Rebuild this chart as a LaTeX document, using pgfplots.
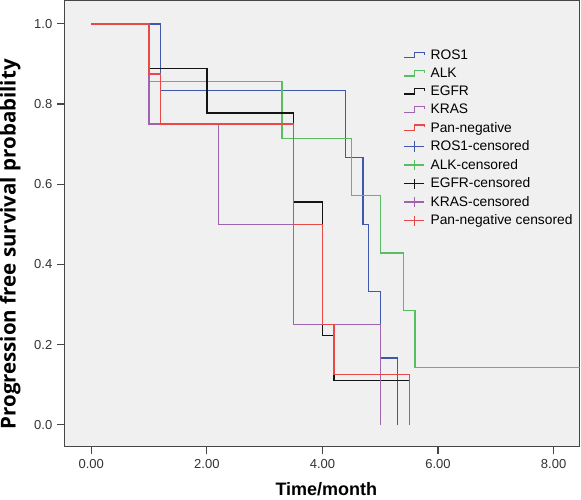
\documentclass[border=0pt]{standalone}
\usepackage{pgfplots}
\pgfplotsset{compat=1.18}
\usepackage{fontspec}
\setmainfont{Liberation Sans}
\newfontfamily\labfont{Open Sans}
\definecolor{rosc}{RGB}{62,88,172}
\definecolor{alkc}{RGB}{88,190,100}
\definecolor{egfrc}{RGB}{20,20,20}
\definecolor{krasc}{RGB}{160,100,175}
\definecolor{panc}{RGB}{232,72,72}
\definecolor{bgc}{RGB}{240,240,240}
\definecolor{framec}{RGB}{70,70,70}
\pgfplotsset{
  steplegend/.style={legend image code/.code={
    \draw[##1] (0bp,-2.5bp) -- (10bp,-2.5bp) -- (10bp,3bp) -- (20bp,3bp) -- (20bp,0.5bp);}},
  censlegend/.style={legend image code/.code={
    \draw[##1] (0bp,0bp) -- (20bp,0bp); \draw[##1] (10bp,-5bp) -- (10bp,5bp);}},
}
\begin{document}
\begin{tikzpicture}
\begin{axis}[
  scale only axis,
  width=513bp, height=444bp,
  xmin=-0.457, xmax=8.45,
  ymin=-0.053, ymax=1.058,
  axis background/.style={fill=bgc},
  axis line style={framec, line width=1.2bp},
  xtick={0,2,4,6,8},
  ytick={0,0.2,0.4,0.6,0.8,1.0},
  tick align=outside,
  major tick length=8bp,
  tick style={framec, line width=1.2bp},
  xtick pos=bottom, ytick pos=left,
  /pgf/number format/assume math mode=true,
  xticklabel style={/pgf/number format/fixed, /pgf/number format/fixed zerofill, /pgf/number format/precision=2, yshift=-2bp},
  yticklabel style={/pgf/number format/fixed, /pgf/number format/fixed zerofill, /pgf/number format/precision=1, xshift=-1bp},
  ticklabel style={font=\fontsize{13}{15}\selectfont, text=black!80},
  xlabel={Time/month},
  ylabel={Progression free survival probability},
  xlabel style={font=\bfseries\fontsize{18}{21}\selectfont, at={(axis description cs:0.508,-0.096)}, anchor=center, inner xsep=0pt, inner ysep=4bp},
  ylabel style={font=\labfont\bfseries\fontsize{20.5}{24}\selectfont, at={(axis description cs:-0.106,0.453)}, anchor=center, inner sep=0pt, rotate=0},
  legend style={at={(axis description cs:0.652,0.898)}, anchor=north west, draw=none, fill=none,
    font=\fontsize{13.8}{15}\selectfont, row sep=4bp, nodes={inner ysep=1.5bp, inner xsep=5.5bp}},
  legend cell align=left,
  every axis plot/.append style={line width=1.3bp},
]
\addplot[rosc, const plot mark left, steplegend] coordinates {
(0,1) (1.2,0.8333) (4.4,0.6667) (4.7,0.5) (4.8,0.3333) (5.0,0.1667) (5.3,0)};
\addplot[alkc, const plot mark left, steplegend] coordinates {
(0,1) (1.0,0.8571) (3.3,0.7143) (4.5,0.5714) (5.0,0.4286) (5.4,0.2857) (5.6,0.1429) (8.6,0.1429)};
\addplot[egfrc, const plot mark left, steplegend] coordinates {
(0,1) (1.0,0.8889) (2.0,0.7778) (3.5,0.5556) (4.0,0.2222) (4.2,0.1111) (5.5,0)};
\addplot[krasc, const plot mark left, steplegend] coordinates {
(0,1) (1.0,0.75) (2.2,0.5) (3.5,0.25) (5.0,0)};
\addplot[panc, const plot mark left, steplegend] coordinates {
(0,1) (1.0,0.875) (1.2,0.75) (3.5,0.5) (4.0,0.25) (4.2,0.125) (5.5,0)};
\addlegendimage{rosc, line width=1.3bp, censlegend}
\addlegendimage{alkc, line width=1.3bp, censlegend}
\addlegendimage{egfrc, line width=1.3bp, censlegend}
\addlegendimage{krasc, line width=1.3bp, censlegend}
\addlegendimage{panc, line width=1.3bp, censlegend}
\legend{ROS1, ALK, EGFR, KRAS, Pan-negative, ROS1-censored, ALK-censored, EGFR-censored, KRAS-censored, Pan-negative censored}
\end{axis}
\end{tikzpicture}
\end{document}
